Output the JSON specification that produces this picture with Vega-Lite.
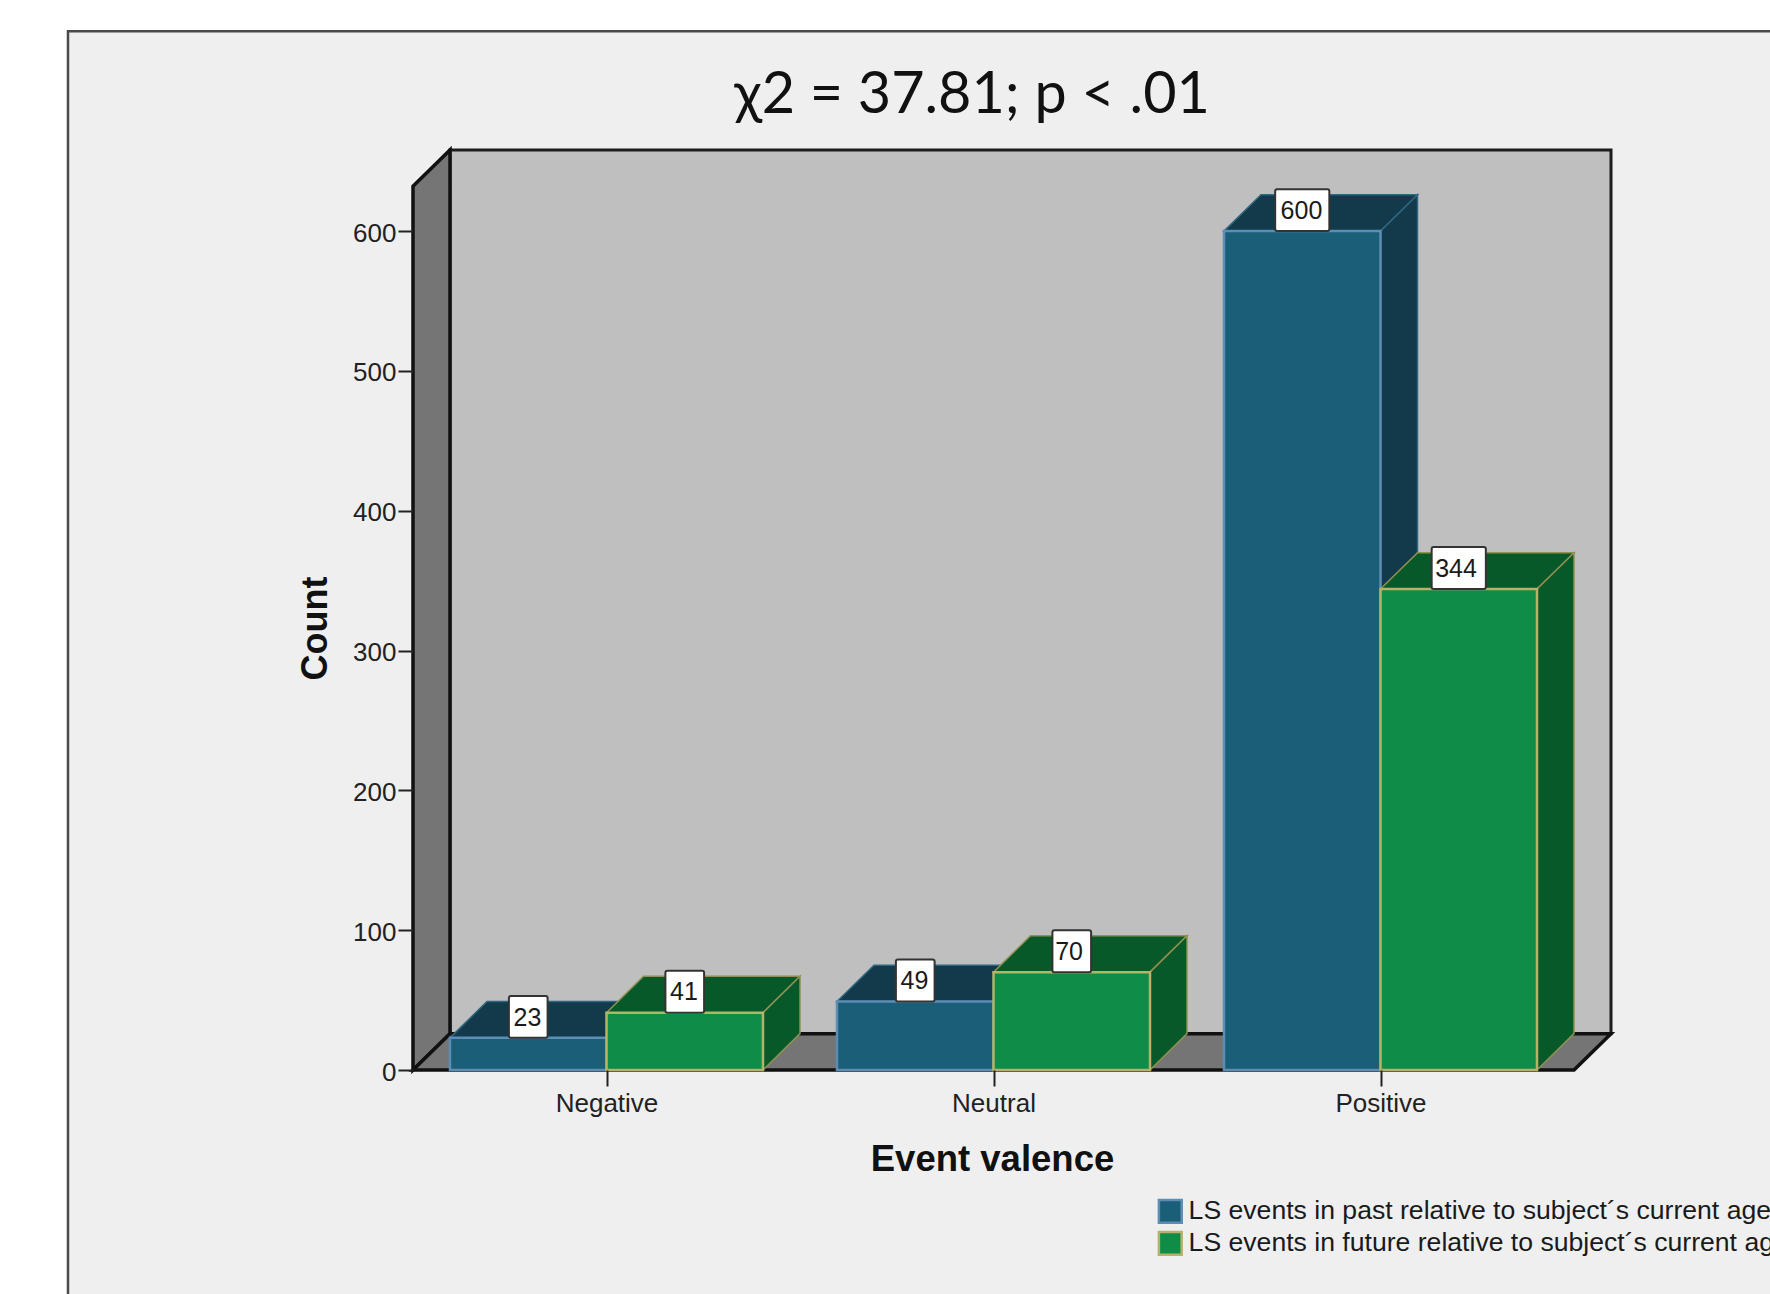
{
"$schema":"https://vega.github.io/schema/vega-lite/v6.json",
"width":1198,"height":920,
"autosize":{"type":"none"},
"padding":{"left":413,"top":150,"right":159,"bottom":224},
"background":"#ffffff",
"config":{"view":{"stroke":null},"font":"Liberation Sans"},
"title":{"text":"χ2 = 37.81; p < .01","font":"Lato","fontSize":57.5,"fontWeight":"normal","color":"#111111","anchor":"middle","frame":"group","dx":-40,"offset":-141,"baseline":"alphabetic","zindex":1},
"datasets":{
"panel":[{"x":-0.8915,"x2":3.7,"y":-175,"y2":743}],
"wall":[{"x":0.0956,"x2":3.0956,"y":26,"y2":658}],
"side":[{"x":0,"y":0,"y2":632},{"x":0.0956,"y":26,"y2":658}],
"floor":[{"x":0,"y":0,"y2":0},{"x":0.0956,"y":0,"y2":26},{"x":3,"y":0,"y2":26},{"x":3.0956,"y":26,"y2":26}],
"bars":[
{"valence":"Negative","series":"LS events in past relative to subject´s current age","count":23,"x":0.0956,"x2":0.5},
{"valence":"Negative","series":"LS events in future relative to subject´s current age","count":41,"x":0.5,"x2":0.9044},
{"valence":"Neutral","series":"LS events in past relative to subject´s current age","count":49,"x":1.0956,"x2":1.5},
{"valence":"Neutral","series":"LS events in future relative to subject´s current age","count":70,"x":1.5,"x2":1.9044},
{"valence":"Positive","series":"LS events in past relative to subject´s current age","count":600,"x":2.0956,"x2":2.5},
{"valence":"Positive","series":"LS events in future relative to subject´s current age","count":344,"x":2.5,"x2":2.9044}],
"pastTop":[
{"bar":"Negative","x":0.0956,"y":23,"y2":23},{"bar":"Negative","x":0.1912,"y":23,"y2":49},{"bar":"Negative","x":0.5,"y":23,"y2":49},{"bar":"Negative","x":0.5956,"y":49,"y2":49},
{"bar":"Neutral","x":1.0956,"y":49,"y2":49},{"bar":"Neutral","x":1.1912,"y":49,"y2":75},{"bar":"Neutral","x":1.5,"y":49,"y2":75},{"bar":"Neutral","x":1.5956,"y":75,"y2":75},
{"bar":"Positive","x":2.0956,"y":600,"y2":600},{"bar":"Positive","x":2.1912,"y":600,"y2":626},{"bar":"Positive","x":2.5,"y":600,"y2":626},{"bar":"Positive","x":2.5956,"y":626,"y2":626}],
"pastSide":[
{"bar":"Negative","x":0.5,"y":0,"y2":23},{"bar":"Negative","x":0.5956,"y":26,"y2":49},
{"bar":"Neutral","x":1.5,"y":0,"y2":49},{"bar":"Neutral","x":1.5956,"y":26,"y2":75},
{"bar":"Positive","x":2.5,"y":0,"y2":600},{"bar":"Positive","x":2.5956,"y":26,"y2":626}],
"futureTop":[
{"bar":"Negative","x":0.5,"y":41,"y2":41},{"bar":"Negative","x":0.5956,"y":41,"y2":67},{"bar":"Negative","x":0.9044,"y":41,"y2":67},{"bar":"Negative","x":1.0,"y":67,"y2":67},
{"bar":"Neutral","x":1.5,"y":70,"y2":70},{"bar":"Neutral","x":1.5956,"y":70,"y2":96},{"bar":"Neutral","x":1.9044,"y":70,"y2":96},{"bar":"Neutral","x":2.0,"y":96,"y2":96},
{"bar":"Positive","x":2.5,"y":344,"y2":344},{"bar":"Positive","x":2.5956,"y":344,"y2":370},{"bar":"Positive","x":2.9044,"y":344,"y2":370},{"bar":"Positive","x":3.0,"y":370,"y2":370}],
"futureSide":[
{"bar":"Negative","x":0.9044,"y":0,"y2":41},{"bar":"Negative","x":1.0,"y":26,"y2":67},
{"bar":"Neutral","x":1.9044,"y":0,"y2":70},{"bar":"Neutral","x":2.0,"y":26,"y2":96},
{"bar":"Positive","x":2.9044,"y":0,"y2":344},{"bar":"Positive","x":3.0,"y":26,"y2":370}],
"labels":[
{"label":"23","cx":0.2958,"x":0.2478,"x2":0.3478,"y":23,"y2":53,"mid":37.5},
{"label":"41","cx":0.7002,"x":0.6522,"x2":0.7522,"y":41,"y2":71,"mid":55.5},
{"label":"49","cx":1.2958,"x":1.2478,"x2":1.3478,"y":49,"y2":79,"mid":63.5},
{"label":"70","cx":1.6952,"x":1.6522,"x2":1.7522,"y":70,"y2":100,"mid":84.5},
{"label":"600","cx":2.2958,"x":2.2278,"x2":2.3678,"y":600,"y2":630,"mid":614.5},
{"label":"344","cx":2.6952,"x":2.6322,"x2":2.7722,"y":344,"y2":374,"mid":358.5}]
},
"encoding":{
"x":{"field":"x","type":"quantitative","scale":{"domain":[0,3.0956],"nice":false,"zero":false},
   "axis":{"title":"Event valence","values":[0.5,1.5,2.5],"labelExpr":"datum.value==0.5?'Negative':datum.value==1.5?'Neutral':'Positive'","domain":false,"grid":false,"tickColor":"#222222","tickSize":16,"tickWidth":2,"labelFontSize":26,"labelColor":"#222222","labelPadding":4,"labelFont":"Liberation Sans","titleFont":"Liberation Sans","titleFontSize":36.5,"titleFontWeight":"bold","titleColor":"#111111","titleX":579,"titleY":100,"titleBaseline":"alphabetic","titleAnchor":"middle","titleAlign":"center","zindex":1}},
"y":{"field":"y","type":"quantitative","stack":null,"scale":{"domain":[0,658],"nice":false,"zero":false},
   "axis":{"title":"Count","values":[0,100,200,300,400,500,600],"domain":false,"grid":false,"tickColor":"#222222","tickSize":15,"tickWidth":2,"labelFontSize":26,"labelColor":"#222222","labelPadding":2,"labelOffset":2,"labelFont":"Liberation Sans","titleFont":"Liberation Sans","titleFontSize":36,"titleFontWeight":"bold","titleColor":"#111111","titleX":-87,"titleY":478,"titleBaseline":"alphabetic","titleAnchor":"middle","titleAlign":"center","zindex":1}}
},
"layer":[
{"data":{"name":"panel"},"mark":{"type":"rect","fill":"#efefef","stroke":"#4a4a4a","strokeWidth":2.5},"encoding":{"x2":{"field":"x2"},"y2":{"field":"y2"}}},
{"data":{"name":"wall"},"mark":{"type":"rect","fill":"#bfbfbf","stroke":"#1c1c1c","strokeWidth":3},"encoding":{"x2":{"field":"x2"},"y2":{"field":"y2"}}},
{"data":{"name":"side"},"mark":{"type":"area","fill":"#757575","stroke":"#111111","strokeWidth":3.5,"strokeJoin":"miter"},"encoding":{"y2":{"field":"y2"}}},
{"data":{"name":"floor"},"mark":{"type":"area","fill":"#757575","stroke":"#111111","strokeWidth":3.5,"strokeJoin":"miter"},"encoding":{"y2":{"field":"y2"}}},
{"data":{"name":"pastTop"},"mark":{"type":"area","fill":"#123a4a","stroke":"#2f6680","strokeWidth":1.5},"encoding":{"detail":{"field":"bar"},"y2":{"field":"y2"}}},
{"data":{"name":"pastSide"},"mark":{"type":"area","fill":"#123a4a","stroke":"#2f6680","strokeWidth":1.5},"encoding":{"detail":{"field":"bar"},"y2":{"field":"y2"}}},
{"data":{"name":"bars"},"transform":[{"filter":"indexof(datum.series,'past')>=0"}],"mark":{"type":"rect","strokeWidth":2.5},
 "encoding":{"x2":{"field":"x2"},
  "y":{"field":"count","type":"quantitative","stack":null,"scale":{"domain":[0,658],"nice":false,"zero":false}},"y2":{"datum":0},
  "fill":{"field":"series","type":"nominal","scale":{"domain":["LS events in past relative to subject´s current age","LS events in future relative to subject´s current age"],"range":["#1b5e78","#0f8d48"]},
   "legend":{"title":null,"orient":"none","legendX":744,"legendY":1048,"symbolType":"square","symbolSize":520,"symbolStrokeWidth":2.5,"labelFont":"Liberation Sans","labelFontSize":26.6,"labelColor":"#1a1a1a","labelLimit":1200,"labelOffset":5,"rowPadding":-2,"padding":0,"zindex":1}},
  "stroke":{"field":"series","type":"nominal","scale":{"domain":["LS events in past relative to subject´s current age","LS events in future relative to subject´s current age"],"range":["#5c8db5","#b5b36a"]},"legend":{"title":null,"orient":"none","legendX":744,"legendY":1048,"symbolType":"square","symbolSize":520,"symbolStrokeWidth":2.5,"labelFont":"Liberation Sans","labelFontSize":26.6,"labelColor":"#1a1a1a","labelLimit":1200,"labelOffset":5,"rowPadding":-2,"padding":0,"zindex":1}}}},
{"data":{"name":"futureTop"},"mark":{"type":"area","fill":"#08592a","stroke":"#8f9150","strokeWidth":1.5},"encoding":{"detail":{"field":"bar"},"y2":{"field":"y2"}}},
{"data":{"name":"futureSide"},"mark":{"type":"area","fill":"#08592a","stroke":"#8f9150","strokeWidth":1.5},"encoding":{"detail":{"field":"bar"},"y2":{"field":"y2"}}},
{"data":{"name":"bars"},"transform":[{"filter":"indexof(datum.series,'future')>=0"}],"mark":{"type":"rect","strokeWidth":2.5},
 "encoding":{"x2":{"field":"x2"},
  "y":{"field":"count","type":"quantitative","stack":null,"scale":{"domain":[0,658],"nice":false,"zero":false}},"y2":{"datum":0},
  "fill":{"field":"series","type":"nominal","scale":{"domain":["LS events in past relative to subject´s current age","LS events in future relative to subject´s current age"],"range":["#1b5e78","#0f8d48"]},
   "legend":{"title":null,"orient":"none","legendX":744,"legendY":1048,"symbolType":"square","symbolSize":520,"symbolStrokeWidth":2.5,"labelFont":"Liberation Sans","labelFontSize":26.6,"labelColor":"#1a1a1a","labelLimit":1200,"labelOffset":5,"rowPadding":-2,"padding":0,"zindex":1}},
  "stroke":{"field":"series","type":"nominal","scale":{"domain":["LS events in past relative to subject´s current age","LS events in future relative to subject´s current age"],"range":["#5c8db5","#b5b36a"]},"legend":{"title":null,"orient":"none","legendX":744,"legendY":1048,"symbolType":"square","symbolSize":520,"symbolStrokeWidth":2.5,"labelFont":"Liberation Sans","labelFontSize":26.6,"labelColor":"#1a1a1a","labelLimit":1200,"labelOffset":5,"rowPadding":-2,"padding":0,"zindex":1}}}},
{"data":{"name":"labels"},"mark":{"type":"rect","fill":"#ffffff","stroke":"#333333","strokeWidth":2,"cornerRadius":2},"encoding":{"x2":{"field":"x2"},"y2":{"field":"y2"}}},
{"data":{"name":"labels"},"mark":{"type":"text","font":"Liberation Sans","fontSize":25,"color":"#1a1a1a","align":"center","baseline":"middle"},
 "encoding":{"x":{"field":"cx","type":"quantitative","scale":{"domain":[0,3.0956],"nice":false,"zero":false}},
  "y":{"field":"mid","type":"quantitative","stack":null,"scale":{"domain":[0,658],"nice":false,"zero":false}},
  "text":{"field":"label"}}}
]
}
